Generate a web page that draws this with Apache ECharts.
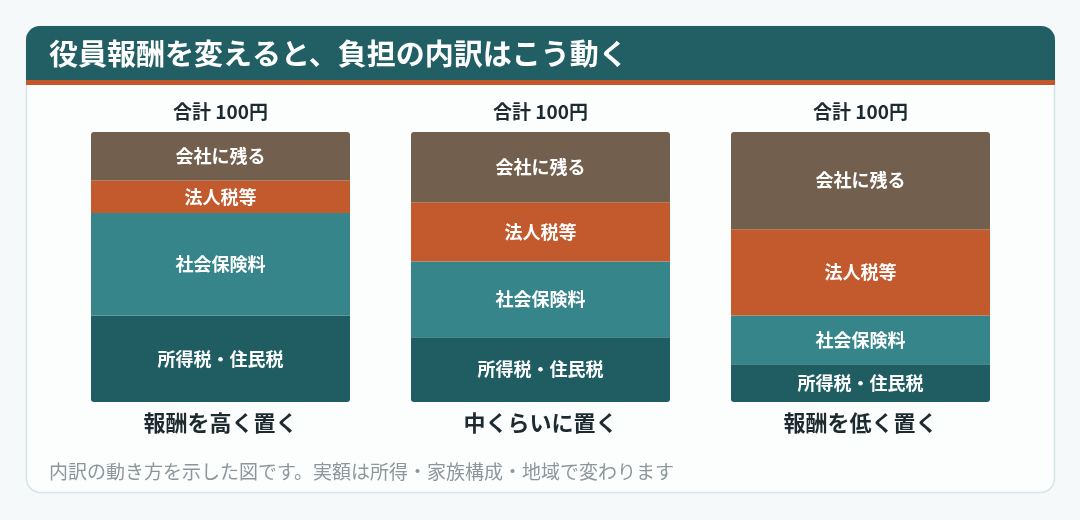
<!DOCTYPE html>
<html><head><meta charset="utf-8">
<script src="https://cdn.jsdelivr.net/npm/echarts@6/dist/echarts.min.js"></script>
<style>html,body{margin:0;padding:0;background:#f5f9f9;}#c{width:1080px;height:520px;}</style>
</head><body><div id="c"></div>
<script>
const categories = ['報酬を高く置く', '中くらいに置く', '報酬を低く置く'];
const incomeTax = [32, 24, 14];      // 所得税・住民税
const socialIns = [38, 28, 18];      // 社会保険料
const corpTax = [12, 22, 32];        // 法人税等
const retained = [18, 26, 36];       // 会社に残る
const seriesNames = ['所得税・住民税', '社会保険料', '法人税等', '会社に残る'];
const colors = ['#1f5d63', '#36858a', '#c35a2d', '#735f4d'];
const titleText = '役員報酬を変えると、負担の内訳はこう動く';
const noteText = '内訳の動き方を示した図です。実額は所得・家族構成・地域で変わります';

const seriesData = [incomeTax, socialIns, corpTax, retained];
const totals = categories.map((c, i) => seriesData.reduce((s, arr) => s + arr[i], 0));
const FONT = '"Noto Sans CJK JP", "Noto Sans", sans-serif';

const chart = echarts.init(document.getElementById('c'), null, {renderer: 'canvas'});
chart.setOption({
  animation: false,
  backgroundColor: '#f5f9f9',
  textStyle: {fontFamily: FONT},
  title: {
    text: titleText, left: 44, top: 34,
    textStyle: {color: '#ffffff', fontSize: 29, fontWeight: 'bold', fontFamily: FONT}
  },
  graphic: [
    {type: 'rect', z: -10, shape: {x: 26.5, y: 26.5, width: 1028, height: 466, r: 14},
     style: {fill: '#fcfefe', stroke: '#d5e4e8', lineWidth: 1.5}},
    {type: 'rect', z: -9, shape: {x: 26, y: 26, width: 1029, height: 55, r: [14, 14, 0, 0]},
     style: {fill: '#215f65'}},
    {type: 'rect', z: -9, shape: {x: 26, y: 80, width: 1029, height: 5},
     style: {fill: '#c4572a'}},
    {type: 'text', left: 49, top: 462,
     style: {text: noteText, fill: '#8d979b', fontSize: 19, fontFamily: FONT}}
  ],
  grid: {left: 60.5, width: 960, top: 132, bottom: 118},
  xAxis: [
    {type: 'category', data: categories, position: 'bottom',
     axisLine: {show: false}, axisTick: {show: false},
     axisLabel: {color: '#1d2b30', fontSize: 22, fontWeight: 'bold', margin: 10, fontFamily: FONT}},
    {type: 'category', data: categories, position: 'top',
     axisLine: {show: false}, axisTick: {show: false},
     axisLabel: {color: '#1d2b30', fontSize: 19, fontWeight: 'bold', margin: 11, fontFamily: FONT,
       formatter: (v, i) => '合計 ' + totals[i] + '円'}}
  ],
  yAxis: {type: 'value', min: 0, max: 100, show: false},
  series: seriesData.map((arr, k) => ({
    name: seriesNames[k], type: 'bar', stack: 'total', barWidth: 259,
    data: arr,
    itemStyle: {color: colors[k],
      borderRadius: k === 0 ? [0, 0, 3, 3] : (k === 3 ? [3, 3, 0, 0] : 0)},
    label: {show: true, position: 'inside', formatter: seriesNames[k],
      color: '#ffffff', fontSize: 18, fontWeight: 'bold', fontFamily: FONT}
  }))
});
</script></body></html>
